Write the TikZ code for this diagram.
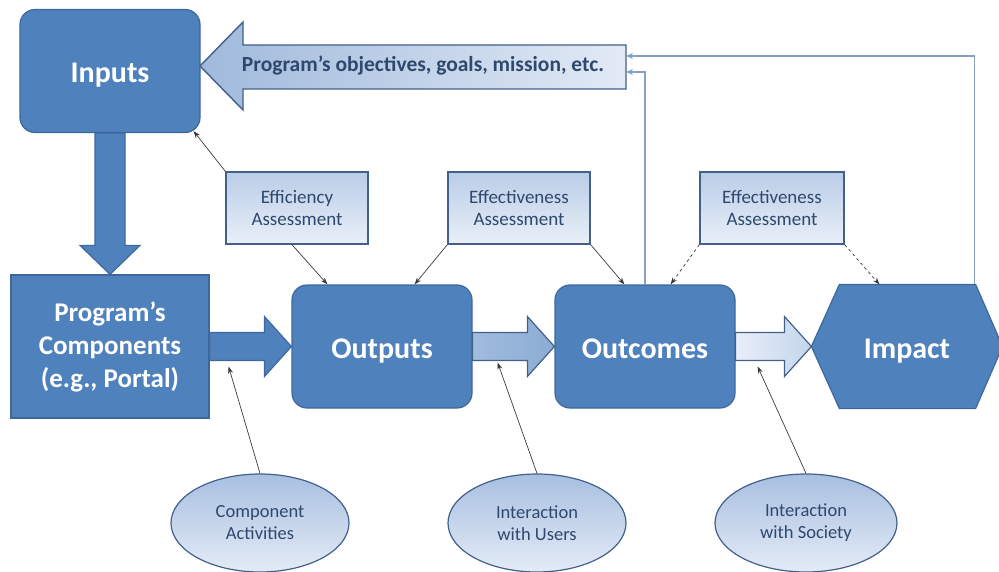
\documentclass[tikz,border=0pt]{standalone}
\usepackage{fontspec}
\setmainfont{Carlito}
\usetikzlibrary{calc,arrows.meta,shapes.geometric,backgrounds}

\definecolor{mainblue}{RGB}{79,129,189}
\definecolor{mainedge}{RGB}{62,104,156}
\definecolor{paleedge}{RGB}{66,96,138}
\definecolor{paletext}{RGB}{46,72,110}
\definecolor{feedline}{RGB}{136,160,196}
\definecolor{thinline}{RGB}{58,58,58}

\tikzset{
  mainbox/.style={rectangle, rounded corners=15, fill=mainblue, draw=mainedge, line width=1.2,
    text=white, align=center, minimum width=180, minimum height=123,
    font=\bfseries\fontsize{30}{33}\selectfont},
  oneline/.style={text height=28pt, text depth=5pt},
  assessbox/.style={rectangle, draw=paleedge, line width=1.4, top color={rgb,255:red,186;green,205;blue,231},
    bottom color={rgb,255:red,233;green,239;blue,248}, text=paletext, align=center,
    minimum width=142, minimum height=72, font=\fontsize{19}{22}\selectfont},
  actoval/.style={ellipse, draw=paleedge, line width=1.2, top color={rgb,255:red,168;green,191;blue,225},
    bottom color={rgb,255:red,228;green,235;blue,246}, text=paletext, align=center,
    minimum width=178, minimum height=98, inner sep=0, font=\fontsize{18.5}{22}\selectfont},
  thinarrow/.style={draw=thinline, line width=0.7, -{Stealth[length=7,width=5]}},
  feedarrow/.style={draw=feedline, line width=1.2, -{Stealth[length=7,width=6,fill=paleedge]}}
}

\newcommand{\hblock}[3]{%
  \draw[#1] let \p1=(#2), \p2=(#3) in
    (\x1,\y1+14pt) -- (\x2-27pt,\y1+14pt) -- (\x2-27pt,\y1+30pt) -- (\x2,\y1)
    -- (\x2-27pt,\y1-30pt) -- (\x2-27pt,\y1-14pt) -- (\x1,\y1-14pt) -- cycle;}

\begin{document}
\begin{tikzpicture}[x=1pt,y=1pt,yscale=-1,xscale=1]
        \clip (0,0) rectangle (999,572);

        % Main boxes
        \node[mainbox, oneline] (inputs) at (110,71) {Inputs};
        \node[mainbox, rounded corners=0, minimum width=198, minimum height=143,
          font=\bfseries\fontsize{27}{33}\selectfont] (comp) at (110,346.5) {Program’s\\Components\\(e.g., Portal)};
        \node[mainbox, oneline] (outputs) at (382,346.5) {Outputs};
        \node[mainbox, oneline] (outcomes) at (645,346.5) {Outcomes};
        \node[mainbox, oneline, draw=none, fill=none, minimum width=190] (impact) at (907,346.5) {Impact};
        %Shape: hexagon behind Impact
        \begin{scope}[on background layer]
          \draw[fill=mainblue, draw=mainedge, line width=1.2] (impact.west) -- ([xshift=28]impact.north west)
            -- ([xshift=-27]impact.north east) -- (impact.east) -- ([xshift=-27]impact.south east)
            -- ([xshift=28]impact.south west) -- cycle;
        \end{scope}

        %Shape: objectives arrow
        \draw[draw=paleedge, line width=1.4, left color={rgb,255:red,160;green,185;blue,220},
          right color={rgb,255:red,226;green,234;blue,245}]
          (200,66) -- (243,22) -- (243,45) -- (626,45) -- (626,89) -- (243,89) -- (243,110) -- cycle;
        \node[text=paletext, font=\bfseries\fontsize{21.5}{24}\selectfont] (goals) at (423,66) {Program’s objectives, goals, mission, etc.};
        \coordinate (goalsA) at (626,72);
        \coordinate (goalsB) at (626,56);

        % Block arrows
        \draw[fill=mainblue, draw=mainedge, line width=1.2] let \p1=(inputs.south), \p2=(comp.north) in
          (\x1-15pt,\y1) -- (\x1-15pt,\y2-29pt) -- (\x1-30pt,\y2-29pt) -- (\x1,\y2)
          -- (\x1+30pt,\y2-29pt) -- (\x1+15pt,\y2-29pt) -- (\x1+15pt,\y1) -- cycle;
        \hblock{fill=mainblue, draw=mainedge, line width=1.2}{comp.east}{outputs.west}
        \hblock{draw=paleedge, line width=1.2, left color={rgb,255:red,160;green,188;blue,222},
          right color={rgb,255:red,140;green,172;blue,212}}{outputs.east}{outcomes.west}
        \hblock{draw=paleedge, line width=1.2, left color={rgb,255:red,232;green,239;blue,248},
          right color={rgb,255:red,196;green,213;blue,236}}{outcomes.east}{impact.west}

        % Assessment boxes
        \node[assessbox] (eff) at (297,208) {Efficiency\\Assessment};
        \node[assessbox] (effA) at (519,208) {Effectiveness\\Assessment};
        \node[assessbox, minimum width=144] (effB) at (772,208) {Effectiveness\\Assessment};

        % Activity ovals
        \node[actoval] (compact) at (260,523) {Component\\Activities};
        \node[actoval] (users) at (537,523) {Interaction\\with Users};
        \node[actoval, minimum width=182] (society) at (806,523) {Interaction\\with Society};

        % Thin arrows
        \draw[thinarrow] (eff.north west) -- ([xshift=-7,yshift=-2]inputs.south east);
        \draw[thinarrow] ([xshift=-5]eff.south) -- ([xshift=36]outputs.north west);
        \draw[thinarrow] (effA.south west) -- ([xshift=-58]outputs.north east);
        \draw[thinarrow] (effA.south east) -- ([xshift=70]outcomes.north west);
        \draw[thinarrow, dashed] (effB.south west) -- ([xshift=-65]outcomes.north east);
        \draw[thinarrow, dashed] (effB.south east) -- ([xshift=68]impact.north west);
        \draw[thinarrow] (compact.north) -- ($(comp.east)+(19,20)$);
        \draw[thinarrow] (users.north) -- ($(outputs.east)+(25,16)$);
        \draw[thinarrow] (society.north) -- ($(outcomes.east)+(22,20)$);

        % Feedback lines
        \draw[feedarrow] (outcomes.north) |- (goalsA);
        \draw[feedarrow] ([xshift=-28]impact.north east) |- (goalsB);

\end{tikzpicture}
\end{document}
